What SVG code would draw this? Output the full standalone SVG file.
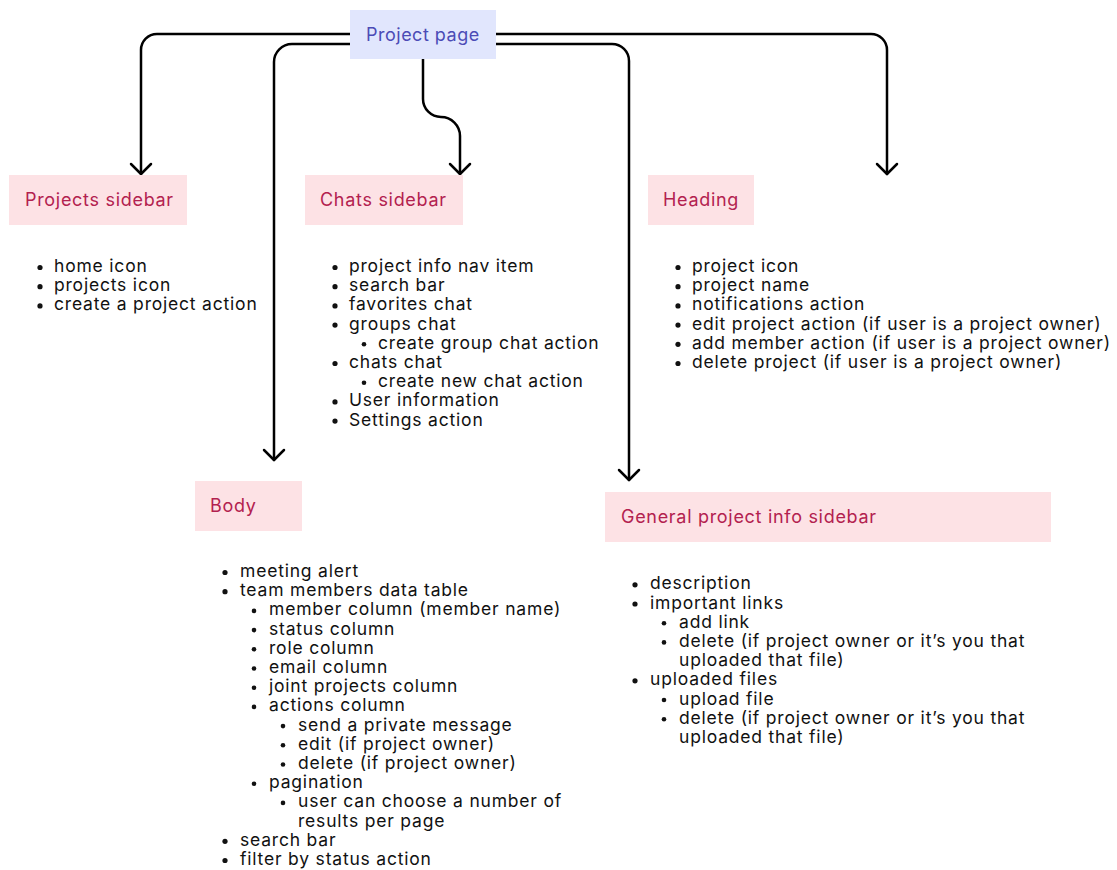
<svg xmlns="http://www.w3.org/2000/svg" width="1117" height="870" viewBox="0 0 1117 870">
<defs>
<style>
.bg{fill:#ffffff}
.root{fill:#e1e6fd}
.rootT{fill:#4b4bb6;font-family:Inter,"Noto Sans",sans-serif;font-size:18px;letter-spacing:0.5px}
.box{fill:#fde2e5}
.boxT{fill:#b3214f;font-family:Inter,"Noto Sans",sans-serif;font-size:18px;letter-spacing:0.7px}
.li{fill:#111111;font-family:Inter,"Noto Sans",sans-serif;font-size:17.5px;letter-spacing:0.8px}
.b{fill:#111111}
.c{fill:none;stroke:#000;stroke-width:2.5;stroke-linecap:round;stroke-linejoin:round}
</style>
</defs>
<rect class="bg" x="0" y="0" width="1117" height="870"/>

<g id="connectors">
<path class="c" d="M350,34 H157 A16 16 0 0 0 141,50 V174"/>
<path class="c" d="M350,44 H292 A18 18 0 0 0 274,62 V460"/>
<path class="c" d="M423,59 V99 A18 18 0 0 0 441,117 A19 19 0 0 1 460,136 V174"/>
<path class="c" d="M496,34 H871 A16 16 0 0 1 887,50 V174"/>
<path class="c" d="M496,44 H612 A17 17 0 0 1 629,61 V480"/>
<path class="c" d="M131,164 L141,174 L151,164"/>
<path class="c" d="M264,450 L274,460 L284,450"/>
<path class="c" d="M450,164 L460,174 L470,164"/>
<path class="c" d="M877,164 L887,174 L897,164"/>
<path class="c" d="M619,470 L629,480 L639,470"/>
</g>

<g id="project-page">
<rect class="root" x="350" y="10" width="146" height="49"/>
<text class="rootT" x="366" y="41">Project page</text>
</g>

<g id="projects-sidebar">
<rect class="box" x="9" y="175" width="178" height="50"/>
<text class="boxT" x="25" y="206">Projects sidebar</text>
<circle class="b" cx="40" cy="267.5" r="2.6"/><text class="li" x="54" y="272">home icon</text>
<circle class="b" cx="40" cy="286.7" r="2.6"/><text class="li" x="54" y="291.2">projects icon</text>
<circle class="b" cx="40" cy="305.9" r="2.6"/><text class="li" x="54" y="310.4">create a project action</text>
</g>

<g id="chats-sidebar">
<rect class="box" x="305" y="175" width="158" height="50"/>
<text class="boxT" x="320" y="206">Chats sidebar</text>
<circle class="b" cx="335" cy="267.5" r="2.6"/><text class="li" x="349" y="272">project info nav item</text>
<circle class="b" cx="335" cy="286.7" r="2.6"/><text class="li" x="349" y="291.2">search bar</text>
<circle class="b" cx="335" cy="305.9" r="2.6"/><text class="li" x="349" y="310.4">favorites chat</text>
<circle class="b" cx="335" cy="325.1" r="2.6"/><text class="li" x="349" y="329.6">groups chat</text>
<circle class="b" cx="364" cy="344.3" r="2.3"/><text class="li" x="378" y="348.8">create group chat action</text>
<circle class="b" cx="335" cy="363.5" r="2.6"/><text class="li" x="349" y="368">chats chat</text>
<circle class="b" cx="364" cy="382.7" r="2.3"/><text class="li" x="378" y="387.2">create new chat action</text>
<circle class="b" cx="335" cy="401.9" r="2.6"/><text class="li" x="349" y="406.4">User information</text>
<circle class="b" cx="335" cy="421.1" r="2.6"/><text class="li" x="349" y="425.6">Settings action</text>
</g>

<g id="heading">
<rect class="box" x="648" y="175" width="106" height="50"/>
<text class="boxT" x="663" y="206">Heading</text>
<circle class="b" cx="678" cy="267.5" r="2.6"/><text class="li" x="692" y="272">project icon</text>
<circle class="b" cx="678" cy="286.7" r="2.6"/><text class="li" x="692" y="291.2">project name</text>
<circle class="b" cx="678" cy="305.9" r="2.6"/><text class="li" x="692" y="310.4">notifications action</text>
<circle class="b" cx="678" cy="325.1" r="2.6"/><text class="li" x="692" y="329.6">edit project action (if user is a project owner)</text>
<circle class="b" cx="678" cy="344.3" r="2.6"/><text class="li" x="692" y="348.8">add member action (if user is a project owner)</text>
<circle class="b" cx="678" cy="363.5" r="2.6"/><text class="li" x="692" y="368">delete project (if user is a project owner)</text>
</g>

<g id="body">
<rect class="box" x="195" y="481" width="107" height="50"/>
<text class="boxT" x="210" y="512">Body</text>
<circle class="b" cx="225" cy="572.5" r="2.6"/><text class="li" x="240" y="577">meeting alert</text>
<circle class="b" cx="225" cy="591.7" r="2.6"/><text class="li" x="240" y="596.2">team members data table</text>
<circle class="b" cx="254" cy="610.9" r="2.3"/><text class="li" x="269" y="615.4">member column (member name)</text>
<circle class="b" cx="254" cy="630.1" r="2.3"/><text class="li" x="269" y="634.6">status column</text>
<circle class="b" cx="254" cy="649.3" r="2.3"/><text class="li" x="269" y="653.8">role column</text>
<circle class="b" cx="254" cy="668.5" r="2.3"/><text class="li" x="269" y="673">email column</text>
<circle class="b" cx="254" cy="687.7" r="2.3"/><text class="li" x="269" y="692.2">joint projects column</text>
<circle class="b" cx="254" cy="706.9" r="2.3"/><text class="li" x="269" y="711.4">actions column</text>
<circle class="b" cx="283" cy="726.1" r="2.3"/><text class="li" x="298" y="730.6">send a private message</text>
<circle class="b" cx="283" cy="745.3" r="2.3"/><text class="li" x="298" y="749.8">edit (if project owner)</text>
<circle class="b" cx="283" cy="764.5" r="2.3"/><text class="li" x="298" y="769">delete (if project owner)</text>
<circle class="b" cx="254" cy="783.7" r="2.3"/><text class="li" x="269" y="788.2">pagination</text>
<circle class="b" cx="283" cy="802.9" r="2.3"/><text class="li" x="298" y="807.4">user can choose a number of</text>
<text class="li" x="298" y="826.6">results per page</text>
<circle class="b" cx="225" cy="841.3" r="2.6"/><text class="li" x="240" y="845.8">search bar</text>
<circle class="b" cx="225" cy="860.5" r="2.6"/><text class="li" x="240" y="865">filter by status action</text>
</g>

<g id="general-project-info-sidebar">
<rect class="box" x="605" y="492" width="446" height="50"/>
<text class="boxT" x="621" y="523">General project info sidebar</text>
<circle class="b" cx="635" cy="584.8" r="2.6"/><text class="li" x="650" y="589.3">description</text>
<circle class="b" cx="635" cy="604" r="2.6"/><text class="li" x="650" y="608.5">important links</text>
<circle class="b" cx="664" cy="623.2" r="2.3"/><text class="li" x="679" y="627.7">add link</text>
<circle class="b" cx="664" cy="642.4" r="2.3"/><text class="li" x="679" y="646.9">delete (if project owner or it’s you that</text>
<text class="li" x="679" y="666.1">uploaded that file)</text>
<circle class="b" cx="635" cy="680.8" r="2.6"/><text class="li" x="650" y="685.3">uploaded files</text>
<circle class="b" cx="664" cy="700" r="2.3"/><text class="li" x="679" y="704.5">upload file</text>
<circle class="b" cx="664" cy="719.2" r="2.3"/><text class="li" x="679" y="723.7">delete (if project owner or it’s you that</text>
<text class="li" x="679" y="742.9">uploaded that file)</text>
</g>
</svg>
